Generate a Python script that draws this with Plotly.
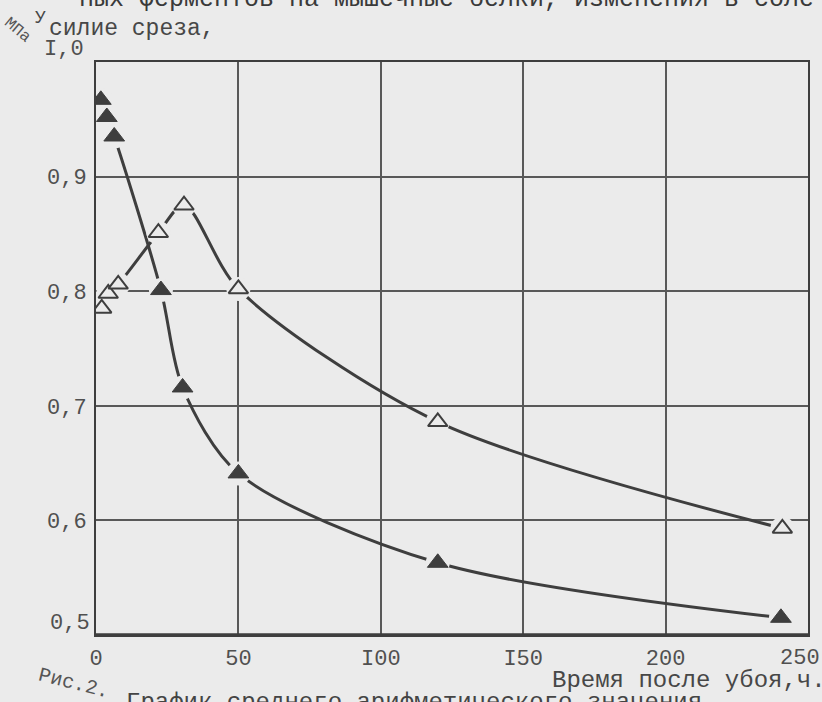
import plotly.graph_objects as go

# ---- data ----
hours_filled = [1.7, 3.8, 6.4, 22.8, 30.4, 50, 120, 240.5]
force_filled = [0.967, 0.952, 0.935, 0.801, 0.716, 0.641, 0.563, 0.515]

hours_open = [2.0, 4.3, 7.8, 21.9, 30.9, 50, 120, 241]
force_open = [0.785, 0.798, 0.806, 0.851, 0.875, 0.802, 0.686, 0.593]

x_ticks = [0, 50, 100, 150, 200, 250]
x_ticktext = ["0", "50", "I00", "I50", "200", "250"]
y_ticks = [0.6, 0.7, 0.8, 0.9]
y_ticktext = ["0,6", "0,7", "0,8", "0,9"]
y_end_ticks = [0.5, 1.0]
y_end_ticktext = ["0,5", "I,0"]

x_title = "Время после убоя,ч."
y_title_sup = "У"
y_title_rest = "силие среза,"
y_unit = "МПа"
top_text = "ных ферментов на мышечные белки, изменения в соле"
caption_head = "Рис.2."
caption_rest = "График среднего арифметического значения"

BG = "#ebebeb"
INK = "#3e3e3e"
GRID = "#585858"
TXT = "#505050"
MONO = "Liberation Mono, DejaVu Sans Mono, monospace"

fig = go.Figure()

# curves
for xs, ys in [(hours_filled, force_filled), (hours_open, force_open)]:
    fig.add_trace(go.Scatter(x=xs, y=ys, mode="lines",
                             line=dict(color=INK, width=3, shape="spline", smoothing=0.85),
                             hoverinfo="skip", showlegend=False))
# gaps around the markers
for xs, ys in [(hours_filled, force_filled), (hours_open, force_open)]:
    fig.add_trace(go.Scatter(x=xs, y=ys, mode="markers",
                             marker=dict(symbol="circle", size=24, color=BG, line=dict(width=0)),
                             hoverinfo="skip", showlegend=False))
# markers
fig.add_trace(go.Scatter(x=hours_filled, y=force_filled, mode="markers",
                         marker=dict(symbol="triangle-up", size=18, color=INK,
                                     line=dict(color=INK, width=1)),
                         showlegend=False))
fig.add_trace(go.Scatter(x=hours_open, y=force_open, mode="markers",
                         marker=dict(symbol="triangle-up", size=17, color=BG,
                                     line=dict(color=INK, width=2)),
                         showlegend=False))

# thicker bottom axis line
fig.add_shape(type="line", xref="x", yref="y", x0=0, x1=250, y0=0.5, y1=0.5,
              line=dict(color=INK, width=3.5))


def px_x(p):  # pixel -> paper x
    return (p - 96) / (808 - 96)


def px_y(p):  # pixel -> paper y
    return (635 - p) / (635 - 62)


ann = [
    # end tick labels of y axis
    dict(x=0, y=y_end_ticks[0], xref="x", yref="y", text=y_end_ticktext[0],
         xanchor="right", yanchor="middle", xshift=-4, yshift=12,
         showarrow=False, font=dict(family=MONO, size=22, color=TXT)),
    dict(x=0, y=y_end_ticks[1], xref="x", yref="y", text=y_end_ticktext[1],
         xanchor="right", yanchor="middle", xshift=-10, yshift=13,
         showarrow=False, font=dict(family=MONO, size=22, color=TXT)),
    # last x tick label (kept inside the page, as in the scan)
    dict(x=x_ticks[-1], y=0.5, xref="x", yref="y", text=x_ticktext[-1],
         xanchor="right", yanchor="top", xshift=14, yshift=-9,
         showarrow=False, font=dict(family=MONO, size=22, color=TXT)),
    dict(x=px_x(550), y=px_y(680), xref="paper", yref="paper", text=x_title,
         xanchor="left", yanchor="middle", showarrow=False,
         font=dict(family=MONO, size=24, color="#474747")),
    dict(x=px_x(40), y=px_y(18), xref="paper", yref="paper", text=y_title_sup,
         xanchor="center", yanchor="middle", showarrow=False,
         font=dict(family=MONO, size=18, color="#474747")),
    dict(x=px_x(47), y=px_y(29), xref="paper", yref="paper", text=y_title_rest,
         xanchor="left", yanchor="middle", showarrow=False,
         font=dict(family=MONO, size=23, color="#474747")),
    dict(x=px_x(17), y=px_y(30), xref="paper", yref="paper", text=y_unit,
         xanchor="center", yanchor="middle", showarrow=False, textangle=40,
         font=dict(family=MONO, size=16, color="#555555")),
    dict(x=px_x(77), y=px_y(0), xref="paper", yref="paper", text=top_text,
         xanchor="left", yanchor="middle", showarrow=False,
         font=dict(family=MONO, size=25, color="#3a3a3a")),
    dict(x=px_x(74), y=px_y(683), xref="paper", yref="paper", text=caption_head,
         xanchor="center", yanchor="middle", showarrow=False, textangle=14,
         font=dict(family=MONO, size=20, color="#555555")),
    dict(x=px_x(124), y=px_y(702), xref="paper", yref="paper", text=caption_rest,
         xanchor="left", yanchor="middle", showarrow=False,
         font=dict(family=MONO, size=24, color="#444444")),
]

fig.update_layout(
    width=822, height=702,
    margin=dict(l=96, r=14, t=62, b=67, autoexpand=False),
    paper_bgcolor=BG, plot_bgcolor=BG,
    showlegend=False,
    annotations=ann,
    xaxis=dict(range=[0, 250], tickvals=x_ticks, ticktext=x_ticktext[:-1] + [""],
               showgrid=True, gridcolor=GRID, gridwidth=1.5, zeroline=False,
               showline=True, mirror=True, linecolor=INK, linewidth=2,
               ticks="", ticklabelstandoff=2, ticklabeloverflow="allow",
               automargin=False,
               tickfont=dict(family=MONO, size=22, color=TXT)),
    yaxis=dict(range=[0.5, 1.0], tickvals=y_ticks, ticktext=y_ticktext,
               showgrid=True, gridcolor=GRID, gridwidth=1.5, zeroline=False,
               showline=True, mirror=True, linecolor=INK, linewidth=2,
               ticks="", ticklabelstandoff=3, automargin=False,
               tickfont=dict(family=MONO, size=22, color=TXT)),
)

fig.write_html("out.html",
               config={"displayModeBar": False},
               post_script="document.body.style.margin='0';document.body.style.overflow='hidden';document.body.style.background='%s';" % BG)
